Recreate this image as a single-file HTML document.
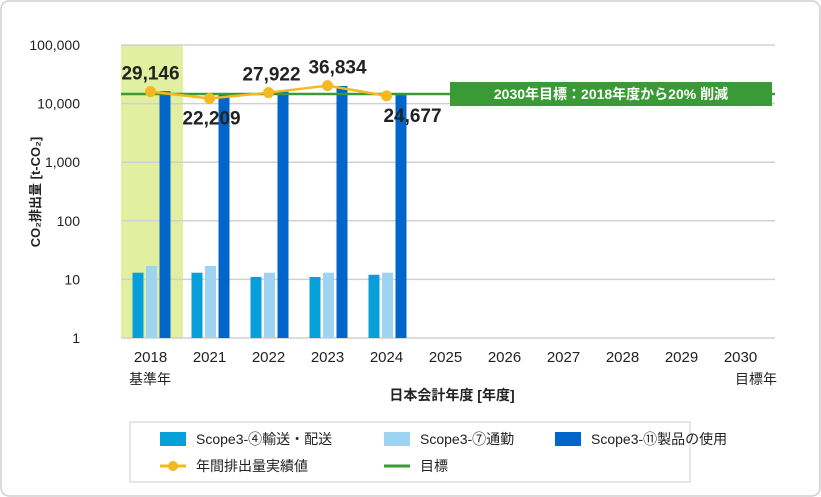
<!DOCTYPE html>
<html><head><meta charset="utf-8"><style>
body{margin:0;background:#fff;}
svg{display:block;font-family:"Liberation Sans","Noto Sans CJK JP",sans-serif;}
</style></head><body>
<svg id="chart" width="821" height="497" viewBox="0 0 821 497">
<rect x="1" y="1" width="819" height="495" rx="8" fill="#fff" stroke="#cfcfcf" stroke-width="1.5"/>
<rect x="121" y="45" width="62" height="293" fill="#e0f0a0"/>
<g id="grid"></g><g id="bars"></g><g id="target"></g><g id="line"></g><g id="labels"></g>
<text transform="translate(40,192) rotate(-90)" text-anchor="middle" font-size="13" font-weight="bold" fill="#222">CO₂排出量 [t-CO₂]</text>
<text x="452" y="400" text-anchor="middle" font-size="14" font-weight="bold" fill="#222">日本会計年度 [年度]</text>
<text x="150" y="384" text-anchor="middle" font-size="14" fill="#222">基準年</text>
<text x="756" y="384" text-anchor="middle" font-size="14" fill="#222">目標年</text>
<g>
<rect x="130" y="422" width="560" height="60" fill="#fff" stroke="#ddd" stroke-width="1.5"/>
<rect x="160" y="432" width="26" height="14" fill="#079fd9"/>
<text x="196" y="444" font-size="14" fill="#222">Scope3-④輸送・配送</text>
<rect x="384" y="432" width="26" height="14" fill="#9ed3f2"/>
<text x="420" y="444" font-size="14" fill="#222">Scope3-⑦通勤</text>
<rect x="555" y="432" width="26" height="14" fill="#0066cc"/>
<text x="591" y="444" font-size="14" fill="#222">Scope3-⑪製品の使用</text>
<line x1="160" y1="466" x2="186" y2="466" stroke="#f4b820" stroke-width="3"/>
<circle cx="173" cy="466" r="5" fill="#f4b820"/>
<text x="196" y="471" font-size="14" fill="#222">年間排出量実績値</text>
<line x1="384" y1="466" x2="410" y2="466" stroke="#3a9a35" stroke-width="3"/>
<text x="420" y="471" font-size="14" fill="#222">目標</text>
</g>
</svg>
<script>
const categories=["2018","2021","2022","2023","2024","2025","2026","2027","2028","2029","2030"];
const transport=[13,13,11,11,12];
const commute=[17,17,13,13,13];
const productUse=[16300,14000,16000,20000,14000];
const actual=[29146,22209,27922,36834,24677];
const actualLabels=["29,146","22,209","27,922","36,834","24,677"];
const targetValue=14573;
const yTicks=[1,10,100,1000,10000,100000];
const yTickLabels=["1","10","100","1,000","10,000","100,000"];
const NS="http://www.w3.org/2000/svg";
const plotL=121,plotR=770,plotT=45,plotB=338;
const band=(plotR-plotL)/categories.length;
function x(i){return plotL+band*(i+0.5);}
function y(v){return plotB-(Math.log10(v)/5)*(plotB-plotT);}
function mk(tag,attrs,parent){const e=document.createElementNS(NS,tag);for(const k in attrs)e.setAttribute(k,attrs[k]);document.getElementById(parent).appendChild(e);return e;}
yTicks.forEach((t,i)=>{
 const l=mk("line",{x1:plotL,x2:plotR+5,y1:y(t),y2:y(t),stroke:"#d0d0d0","stroke-width":1.5},"grid");
 
 
 const tx=mk("text",{x:80,y:y(t)+5,"text-anchor":"end","font-size":14,fill:"#222"},"grid");
 tx.textContent=yTickLabels[i];
 
 
});
categories.forEach((c,i)=>{
 const tx=mk("text",{x:x(i),y:362,"text-anchor":"middle","font-size":15,fill:"#222"},"grid");
 tx.textContent=c;
 
 
});
const series=[[transport,"#079fd9",-12.5],[commute,"#9ed3f2",1],[productUse,"#0066cc",14.5]];
series.forEach(([arr,col,off])=>{
 arr.forEach((v,i)=>{
  const r=mk("rect",{x:x(i)+off-5.5,y:y(v),width:11,height:plotB-y(v),fill:col},"bars");
  
  
 });
});
const tl=mk("line",{x1:plotL,x2:plotR+5,y1:y(targetValue),y2:y(targetValue),stroke:"#3a9a35","stroke-width":2.5},"target");


const tb=mk("rect",{x:450,y:y(targetValue)-12,width:322,height:24,fill:"#3a9a35"},"target");


const tt=mk("text",{x:611,y:y(targetValue)+5,"text-anchor":"middle","font-size":14,"font-weight":"bold",fill:"#fff"},"target");
tt.textContent="2030年目標：2018年度から20% 削減";


const k=0.55;
const pts=actual.map((v,i)=>x(i)+","+y(v*k)).join(" ");
const pl=mk("polyline",{points:pts,fill:"none",stroke:"#f4b820","stroke-width":2.5},"line");


const below=[false,true,false,false,true];
const dx=[0,2,3,10,26];
actual.forEach((v,i)=>{
 const c=mk("circle",{cx:x(i),cy:y(v*k),r:5.5,fill:"#f4b820"},"line");
 
 
 const t=mk("text",{x:x(i)+dx[i],y:below[i]?y(v*k)+26:y(v*k)-12,"text-anchor":"middle","font-size":19,"font-weight":"bold",fill:"#222"},"labels");
 t.textContent=actualLabels[i];
 
 
});
</script>
</body></html>
